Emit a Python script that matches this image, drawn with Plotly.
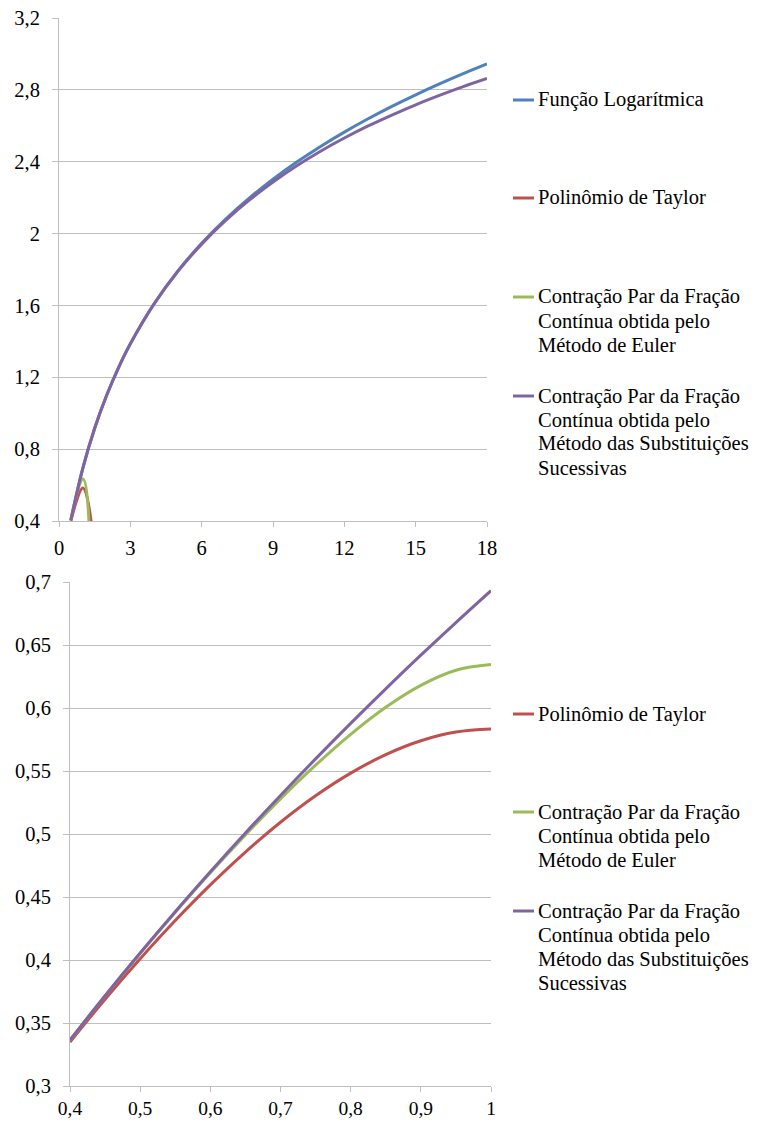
import plotly.graph_objects as go

# ---------------- data ----------------
# upper chart
x_top = [0.5, 1, 1.5, 2, 2.5, 3, 4, 5, 6, 7, 8, 9, 10, 11, 12, 13, 14, 15, 16, 17, 18]
log_top = [0.4055, 0.6931, 0.9163, 1.0986, 1.2528, 1.3863, 1.6094, 1.7918, 1.9459, 2.0794,
           2.1972, 2.3026, 2.3979, 2.4849, 2.5649, 2.6391, 2.7081, 2.7726, 2.8332, 2.8904, 2.9444]
subs_top = [0.4055, 0.6931, 0.9163, 1.0986, 1.2527, 1.3860, 1.6084, 1.7896, 1.9414, 2.0719,
            2.1861, 2.2870, 2.3774, 2.4584, 2.5318, 2.5991, 2.6600, 2.7170, 2.7692, 2.8179, 2.8631]
x_top_short = [0.5, 1, 1.5, 2]
taylor_top = [0.4010, 0.5833, 0.2344, -1.3333]
euler_top = [0.4053, 0.6345, -0.9081, -17.30]

# lower chart
x_bot = [0.40, 0.45, 0.50, 0.55, 0.60, 0.65, 0.70, 0.75, 0.80, 0.85, 0.90, 0.95, 1.00]
taylor_bot = [0.3349, 0.3689, 0.4010, 0.4313, 0.4596, 0.4857, 0.5093, 0.5303, 0.5483, 0.5630, 0.5740, 0.5809, 0.5833]
euler_bot = [0.3364, 0.3715, 0.4053, 0.4379, 0.4693, 0.4993, 0.5279, 0.5546, 0.5791, 0.6006, 0.6180, 0.6300, 0.6345]
subs_bot = [0.3365, 0.3716, 0.4055, 0.4383, 0.4700, 0.5008, 0.5306, 0.5596, 0.5878, 0.6152, 0.6419, 0.6678, 0.6931]

# ticks
top_xticks = [0, 3, 6, 9, 12, 15, 18]
top_xlabels = ["0", "3", "6", "9", "12", "15", "18"]
top_yticks = [0.4, 0.8, 1.2, 1.6, 2.0, 2.4, 2.8, 3.2]
top_ylabels = ["0,4", "0,8", "1,2", "1,6", "2", "2,4", "2,8", "3,2"]
bot_xticks = [0.4, 0.5, 0.6, 0.7, 0.8, 0.9, 1.0]
bot_xlabels = ["0,4", "0,5", "0,6", "0,7", "0,8", "0,9", "1"]
bot_yticks = [0.3, 0.35, 0.4, 0.45, 0.5, 0.55, 0.6, 0.65, 0.7]
bot_ylabels = ["0,3", "0,35", "0,4", "0,45", "0,5", "0,55", "0,6", "0,65", "0,7"]

# series names
name_log = "Função Logarítmica"
name_taylor = "Polinômio de Taylor"
name_euler = ["Contração Par da Fração", "Contínua obtida pelo", "Método de Euler"]
name_subs = ["Contração Par da Fração", "Contínua obtida pelo", "Método das Substituições", "Sucessivas"]

BLUE = "#4F81BD"
RED = "#C0504D"
GREEN = "#9BBB59"
PURPLE = "#8064A2"
GRID = "#BFBFBF"
FONT = "Liberation Serif"
FS = 20.5

# page body has an 8px margin; the figure is sized to fit the window
OFF = 8
W, H = 757 - OFF, 1122 - OFF

fig = go.Figure()

def add(x, y, color, name, xa, ya):
    fig.add_trace(go.Scatter(x=x, y=y, mode="lines", name=name, showlegend=False,
                             line=dict(color=color, width=3, shape="spline", smoothing=1),
                             xaxis=xa, yaxis=ya, hoverinfo="x+y+name"))

add(x_top, log_top, BLUE, name_log, "x", "y")
add(x_top_short, taylor_top, RED, name_taylor, "x", "y")
add(x_top_short, euler_top, GREEN, " ".join(name_euler), "x", "y")
add(x_top, subs_top, PURPLE, " ".join(name_subs), "x", "y")

add(x_bot, taylor_bot, RED, name_taylor, "x2", "y2")
add(x_bot, euler_bot, GREEN, " ".join(name_euler), "x2", "y2")
add(x_bot, subs_bot, PURPLE, " ".join(name_subs), "x2", "y2")

def px_x(p):
    return (p - OFF) / W

def px_y(p):
    return 1 - (p - OFF) / H

axis_common = dict(showline=True, linecolor=GRID, linewidth=1, ticks="outside",
                   tickcolor=GRID, tickwidth=1, zeroline=False, automargin=False,
                   ticklabeloverflow="allow", fixedrange=True)

fig.update_layout(
    width=W, height=H, margin=dict(l=0, r=0, t=0, b=0, autoexpand=False),
    paper_bgcolor="white", plot_bgcolor="white",
    showlegend=False,
    font=dict(family=FONT, size=FS, color="#000000"),
    xaxis=dict(domain=[px_x(59), px_x(487)], range=[0, 18], tickmode="array",
               tickvals=top_xticks, ticktext=top_xlabels, showgrid=False,
               anchor="y", ticklen=5, ticklabelstandoff=3,
               tickfont=dict(family=FONT, size=FS, color="#000000"), **axis_common),
    yaxis=dict(domain=[px_y(521), px_y(18)], range=[0.4, 3.2], tickmode="array",
               tickvals=top_yticks, ticktext=top_ylabels, showgrid=True, gridcolor=GRID,
               gridwidth=1, anchor="x", ticklen=6, ticklabelstandoff=8,
               tickfont=dict(family=FONT, size=FS, color="#000000"), **axis_common),
    xaxis2=dict(domain=[px_x(70), px_x(491)], range=[0.4, 1.0], tickmode="array",
                tickvals=bot_xticks, ticktext=bot_xlabels, showgrid=False,
                anchor="y2", ticklen=5, ticklabelstandoff=0,
                tickfont=dict(family=FONT, size=19.5, color="#000000"), **axis_common),
    yaxis2=dict(domain=[px_y(1086), px_y(582)], range=[0.3, 0.7], tickmode="array",
                tickvals=bot_yticks, ticktext=bot_ylabels, showgrid=True, gridcolor=GRID,
                gridwidth=1, anchor="x2", ticklen=6, ticklabelstandoff=8,
                tickfont=dict(family=FONT, size=FS, color="#000000"), **axis_common),
)

# manual legends (sample line + text lines)
def legend_item(y_first, color, lines):
    fig.add_shape(type="line", xref="paper", yref="paper",
                  x0=px_x(513), x1=px_x(534), y0=px_y(y_first), y1=px_y(y_first),
                  line=dict(color=color, width=3))
    for i, t in enumerate(lines):
        fig.add_annotation(xref="paper", yref="paper", x=px_x(536), y=px_y(y_first + i * 24),
                           xanchor="left", yanchor="middle", text=t, showarrow=False,
                           font=dict(family=FONT, size=FS, color="#000000"))

legend_item(100, BLUE, [name_log])
legend_item(198, RED, [name_taylor])
legend_item(297, GREEN, name_euler)
legend_item(396, PURPLE, name_subs)

legend_item(714, RED, [name_taylor])
legend_item(812, GREEN, name_euler)
legend_item(911, PURPLE, name_subs)

fig.write_html("out.html")
